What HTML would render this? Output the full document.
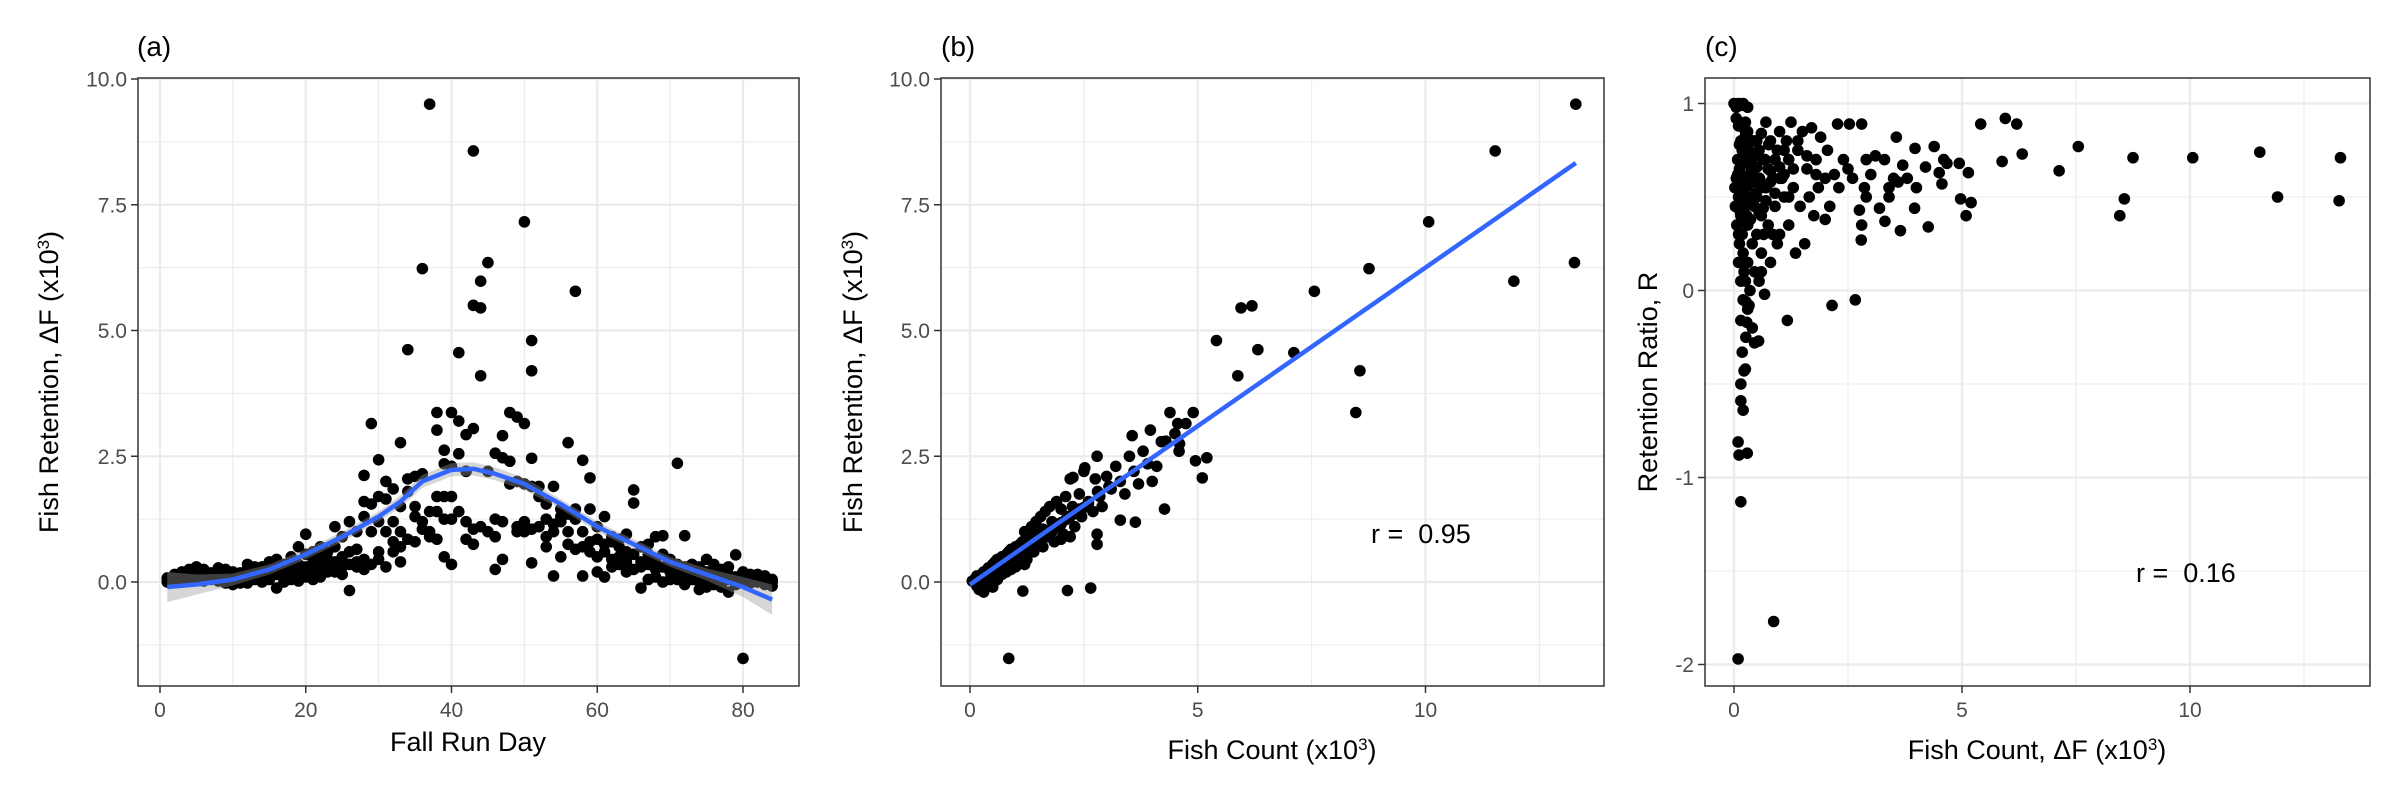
<!DOCTYPE html>
<html><head><meta charset="utf-8"><style>
html,body{margin:0;padding:0;background:#fff}
svg{display:block}
text{font-family:"Liberation Sans",Arial,sans-serif}
</style></head><body>
<svg id="fig" width="2400" height="800" viewBox="0 0 2400 800" xmlns="http://www.w3.org/2000/svg">
<rect width="2400" height="800" fill="#fff"/>
</svg>
<script>
// ---------- DATA ----------
// Panel (a): values per fall run day (index 0 = day 1)
const dayValues = [
[.02,.05,.08,0],[.1,.05,.15,0],[.12,.2,.05,.15],[.2,.1,.25,.05],[.3,.15,.05,.22],
[.25,.1,.2,.02],[.18,.05,.12],[.28,.1,.02,.2],[.15,.25,-.02,.08],[.05,.2,-.05,.12],
[.1,0,.18,-.02],[.35,.15,-.02,.25],[.2,.05,.3,.1],[.15,.3,0,.25],[.4,.1,.2,.05],
[.3,-.12,.15,.45],[.25,.1,.35,0],[.2,.5,.05,.3],[.15,.7,.35,.02],[.95,.3,.1,.55],
[.4,.2,.6,.05],[.7,.3,.1,.5],[.45,.6,.2,.25],[1.1,.2,.4,.7],[.9,.15,.5,.3],
[1.2,-.17,.6,.35],[.65,.3,1.0,.4],[2.12,1.6,.25,.45,1.3],[3.15,1.55,.35,1.0],[2.43,1.7,.6,.45,1.2],
[2.0,1.65,.3,1.0],[1.85,1.2,.8,.6],[2.77,1.5,1.0,.4,.7],[4.62,2.05,1.8,.85],[2.1,1.5,.8,1.3],
[6.23,2.15,1.2,1.05],[9.5,1.4,1.0,.9],[3.37,3.02,1.7,.85,1.4],[2.62,2.35,1.7,.5,1.25],[3.37,2.3,1.7,.35,1.25],
[4.56,3.2,2.55,1.4],[2.93,1.2,.85,2.2],[8.57,5.5,3.05,1.05,.75],[5.45,5.98,4.1,1.1],[6.35,2.2,1.0],
[2.56,1.25,.25,.9],[2.91,2.47,1.2,.45],[3.37,1.95,2.4],[3.28,1.0,1.1,2.0],[7.16,3.15,1.2,1.0,1.95],
[4.8,4.2,2.46,1.05,.38,1.9],[1.9,1.7,1.1],[1.55,1.25,.7,.9],[1.9,1.15,.12,1.0],[1.45,.5,1.2,1.3],
[2.77,.75,1.35,1.0],[5.78,1.45,.65,1.25],[2.42,.12,1.0,.7],[2.07,1.45,.6,.8],[.85,.5,.2,1.1],
[1.3,.75,.1,.6],[.8,.45,.9,.3],[.7,.5,.35,.85],[.95,.4,.6,.2],[1.83,1.57,.25,.55],
[.7,-.12,.4,.3],[.55,.05,.35,.75],[.9,.4,.1,.25],[.92,.3,0,.55],[.45,.2,.05,.3],
[2.36,.35,.15,.05],[.92,.3,.1,-.05],[.2,.05,.35,.15],[-.15,.3,.1,0],[.45,.2,-.1,.1],
[.35,.05,.15,-.05],[.25,-.1,.1,0],[.3,-.2,.05,.15],[.54,.1,-.05,0],[-1.52,.2,0,.1],
[.1,.15,-.02,.05],[.15,0,.1,.05],[.12,.02,.05,-.05],[0,.05,-.08,.02]
];
const loessDays = [1,5,10,15,20,25,30,33,36,40,43,46,50,55,60,65,70,75,80,84];
const loessFit  = [-.1,-.05,.05,.25,.55,.9,1.3,1.6,2.0,2.23,2.25,2.15,1.95,1.55,1.1,.75,.4,.15,-.1,-.35];
const loessSe   = [.3,.2,.12,.1,.1,.1,.1,.12,.13,.13,.13,.13,.12,.1,.1,.1,.1,.12,.2,.3];

// Panel (b): fish count vs retention
const countB = [13.3,11.53,10.07,8.76,13.27,11.94,7.56,5.95,6.19,5.41,6.32,7.11,5.88,8.56,8.47,.85,1.16,2.14,2.65,4.39,4.9,3.56,3.96,4.2,4.59,4.95,5.2,5.1,4.27,3.63,3.3,2.79,2.79,2.79,2.52,2.26,4.56,4.74,
.05,.1,.15,.2,.25,.3,.3,.35,.4,.4,.45,.5,.5,.55,.6,.6,.65,.7,.7,.75,.8,.8,.85,.9,.9,.95,1.0,1.0,1.05,1.1,1.1,1.15,1.2,1.2,1.25,1.3,1.3,1.35,1.4,1.45,1.5,1.5,1.55,1.6,1.65,1.7,1.75,1.8,1.85,1.9,1.95,2.0,2.05,2.1,2.15,2.2,2.25,2.3,2.4,2.45,2.5,2.6,2.7,2.75,2.8,2.9,3.0,3.1,3.2,3.3,3.4,3.5,3.6,3.7,3.8,3.9,4.0,4.1,4.3,4.5,4.6,
.2,.35,.5,.6,.15,.25,.45,.55,.7,.8,.9,1.0,1.1,1.2,1.4,1.6,1.8,2.0,2.2,
.1,.2,.3,.4,.5,.6,.7,.8,.9,1.0,1.1,1.2,1.3,1.4,1.5,1.6,1.7,1.8,1.9,2.0,2.1,2.3,2.5,
.15,.25,.35,.45,.55,.65,.75,.85,.95,1.05,1.15,1.25,1.35,1.45,1.55,1.65,1.75,1.85,2.0,2.2,2.4,2.6,2.85,3.05];
const retentionB = [9.5,8.57,7.16,6.23,6.35,5.98,5.78,5.45,5.49,4.8,4.62,4.56,4.1,4.2,3.37,-1.52,-.18,-.17,-.12,3.37,3.37,2.91,3.02,2.79,2.6,2.41,2.47,2.07,1.45,1.19,1.23,.75,.95,2.5,2.27,2.08,3.15,3.15,
.02,.05,-.08,.1,.15,-.2,.2,.22,.1,.28,.3,.2,.35,.4,.25,.45,.3,.5,.15,.45,.55,.35,.6,.4,.65,.5,.7,.45,.35,.75,.55,.8,.6,1.0,.45,.9,.7,1.1,.85,1.2,.95,.75,1.3,1.05,1.4,.9,1.5,1.2,.8,1.6,1.1,1.45,.95,1.7,1.3,2.05,1.5,1.1,1.75,1.3,2.2,1.6,1.4,2.05,1.8,1.5,2.1,1.85,2.3,2.0,1.75,2.5,2.2,1.95,2.6,2.35,2.0,2.3,2.8,2.95,2.75,
-.15,-.05,-.1,.05,.12,0,.05,.15,.3,.2,.25,.3,.4,.35,.6,.7,1.0,.85,.9,
.04,.1,.16,.22,.28,.34,.4,.46,.52,.58,.64,.7,.76,.82,.88,.94,1.0,1.06,1.12,1.18,1.24,1.36,1.48,
.05,.12,.18,.25,.3,.36,.42,.48,.55,.6,.66,.72,.78,.84,.9,.96,1.02,1.08,1.15,1.3,1.45,1.55,1.7,1.9];
const fitB = {x:[0,13.3], y:[-.05,8.33]};

// Panel (c): fish count vs retention ratio
const countC = [.09,.87,.15,.09,.11,.29,.2,.15,.15,.22,.25,.18,.54,.26,.15,.28,1.17,.67,2.15,2.66,.26,.33,
5.41,5.95,6.2,6.32,5.88,7.13,7.55,8.75,8.56,8.46,10.06,11.53,11.92,13.3,13.27,
4.94,5.14,4.97,5.2,5.09,4.39,3.97,3.56,4.26,3.65,3.31,3.19,4.56,4.67,3.96,2.27,2.53,2.8,2.79,2.8,2.75,2.86,2.9,
0,.05,.1,.15,.2,.3,.05,.1,.02,.03,.05,.06,.08,.1,.12,.12,.15,.15,.18,.18,.2,.2,.22,.22,.25,.25,.25,.28,.3,.3,.32,.35,.35,.38,.4,.4,.45,.45,.5,.5,.55,.55,.6,.6,.65,.7,.7,.75,.8,.8,.85,.9,.95,1.0,1.0,1.05,1.1,1.15,1.2,1.2,1.25,1.3,1.35,1.4,1.45,1.5,1.55,1.6,1.65,1.7,1.75,1.8,1.85,1.9,2.0,2.0,2.05,2.1,2.2,2.3,2.4,2.5,2.6,2.9,3.0,3.1,3.3,3.4,3.5,3.7,3.8,4.0,4.2,4.5,4.6,3.4,3.6,
.1,.15,.2,.3,.4,.45,.6,.5,.35,.28,.18,.5,.65,.75,.9,1.0,1.1,1.3,.85,.95,
.08,.12,.16,.2,.24,.28,.32,.36,.4,.44,.48,.52,.56,.6,.64,.68,.72,.76,.8,.1,.14,.18,.22,.26,.3,.34,.38,.42,.46,.5,.55,.6,.7,.8,.9,1.0,1.1,1.2,1.4,1.6,1.8,0.3,0.2,0.25];
const ratioC = [-1.97,-1.77,-1.13,-.81,-.88,-.87,-.64,-.59,-.5,-.43,-.42,-.33,-.27,-.25,-.16,-.17,-.16,-.02,-.08,-.05,-.06,-.08,
.89,.92,.89,.73,.69,.64,.77,.71,.49,.4,.71,.74,.5,.71,.48,
.68,.63,.49,.47,.4,.77,.76,.82,.34,.32,.37,.44,.57,.68,.44,.89,.89,.89,.27,.35,.43,.55,.5,
1.0,.98,1.0,.99,1.0,.98,.92,.88,.55,.45,.6,.35,.7,.5,.25,.65,.8,.4,.3,.75,.2,.55,.1,.7,.05,.45,.85,.6,.15,.35,.75,.5,0,.65,.25,.8,.45,.1,.6,.3,.75,.05,.4,.2,.7,.55,.9,.35,.8,.15,.6,.45,.75,.3,.85,.6,.5,.8,.35,.7,.9,.55,.2,.75,.45,.85,.25,.65,.5,.87,.4,.7,.55,.82,.6,.38,.75,.45,.62,.55,.7,.65,.6,.7,.62,.72,.7,.55,.6,.67,.6,.55,.66,.63,.7,.5,.58,
.15,.05,-.05,-.1,-.2,-.28,.1,.5,.7,.4,.5,.8,.3,.65,.7,.6,.75,.65,.3,.25,
.62,.78,.48,.68,.82,.58,.72,.38,.66,.8,.52,.74,.6,.84,.44,.7,.56,.78,.64,.3,.42,.6,.36,.5,.56,.62,.46,.58,.72,.66,.42,.55,.48,.58,.52,.66,.62,.5,.8,.72,.62,.85,.78,.9];

const ticksA_x = [0,20,40,60,80];
const ticksA_y = [0,2.5,5,7.5,10];
const labelsA_y = ["0.0","2.5","5.0","7.5","10.0"];
const ticksB_x = [0,5,10];
const ticksC_y = [-2,-1,0,1];

// ---------- DRAWING ----------
const svg = document.getElementById('fig');
const NS = 'http://www.w3.org/2000/svg';
function mk(tag, attrs, parent){
  const e = document.createElementNS(NS, tag);
  for (const k in attrs) e.setAttribute(k, attrs[k]);
  (parent||svg).appendChild(e);
  return e;
}
function linear(d0,d1,r0,r1){ return v => r0 + (v-d0)*(r1-r0)/(d1-d0); }

const axA = {L:138,R:799,T:78,B:686, x:linear(0,80,160,743), y:linear(0,10,582,79)};
const axB = {L:941,R:1604,T:78,B:686, x:linear(0,10,970,1425.5), y:linear(0,10,582,79)};
const axC = {L:1705,R:2370,T:78,B:686, x:linear(0,10,1734,2190), y:linear(0,1,290.5,103.5)};

function panel(ax, name, xMajor, xMinor, yMajor, yMinor, xLabels, yLabels){
  const g = mk('g', {});
  
  
  const grid = mk('g', {}, g);
  
  
  xMinor.forEach(v => { const x = ax.x(v); mk('line',{x1:x,x2:x,y1:ax.T,y2:ax.B,stroke:'#ebebeb','stroke-width':1.1},grid); });
  yMinor.forEach(v => { const y = ax.y(v); mk('line',{x1:ax.L,x2:ax.R,y1:y,y2:y,stroke:'#ebebeb','stroke-width':1.1},grid); });
  xMajor.forEach(v => { const x = ax.x(v); mk('line',{x1:x,x2:x,y1:ax.T,y2:ax.B,stroke:'#ebebeb','stroke-width':2.2},grid); });
  yMajor.forEach(v => { const y = ax.y(v); mk('line',{x1:ax.L,x2:ax.R,y1:y,y2:y,stroke:'#ebebeb','stroke-width':2.2},grid); });
  const xt = mk('g', {}, g);
  
  
  xMajor.forEach((v,i) => {
    const x = ax.x(v);
    mk('line',{x1:x,x2:x,y1:ax.B,y2:ax.B+7,stroke:'#333','stroke-width':1.5},xt);
    const t = mk('text',{x:x,y:ax.B+31,'text-anchor':'middle','font-size':21,fill:'#4d4d4d'},xt);
    t.textContent = xLabels[i];
  });
  const yt = mk('g', {}, g);
  
  
  yMajor.forEach((v,i) => {
    const y = ax.y(v);
    mk('line',{x1:ax.L-7,x2:ax.L,y1:y,y2:y,stroke:'#333','stroke-width':1.5},yt);
    const t = mk('text',{x:ax.L-11,y:y+7.5,'text-anchor':'end','font-size':21,fill:'#4d4d4d'},yt);
    t.textContent = yLabels[i];
  });
  return g;
}
function border(ax, name){
  const r = mk('rect',{x:ax.L,y:ax.T,width:ax.R-ax.L,height:ax.B-ax.T,fill:'none',stroke:'#333','stroke-width':1.5});
  
  
}
function points(ax, xs, ys, name){
  const g = mk('g', {});
  
  
  for (let i=0;i<xs.length;i++){
    const c = mk('circle',{cx:ax.x(xs[i]),cy:ax.y(ys[i]),r:5.8,fill:'#000'},g);
    
    
  }
  return g;
}
function text(x,y,str,size,name,anchor,rot){
  const t = mk('text',{x:x,y:y,'font-size':size,fill:'#000','text-anchor':anchor||'start'});
  if (rot) t.setAttribute('transform','rotate(-90 '+x+' '+y+')');
  
  
  t.textContent = str;
  return t;
}
function titleWithSup(x,y,pre,post,name,rot){
  const t = mk('text',{x:x,y:y,'font-size':27,fill:'#000','text-anchor':'middle'});
  if (rot) t.setAttribute('transform','rotate(-90 '+x+' '+y+')');
  
  
  const a = mk('tspan',{},t); a.textContent = pre;
  const s = mk('tspan',{'baseline-shift':'super','font-size':17},t); s.textContent = '3';
  const b = mk('tspan',{},t); b.textContent = post;
  return t;
}

// Panel A
panel(axA,'panel-a',ticksA_x,[10,30,50,70],ticksA_y,[-1.25,1.25,3.75,6.25,8.75],ticksA_x.map(String),labelsA_y);
const ax=[],ay=[];
dayValues.forEach((vals,i)=>vals.forEach(v=>{ax.push(i+1);ay.push(v);}));
points(axA,ax,ay,'panel-a-points');
let band = '';
loessDays.forEach((d,i)=>{ band += (i?'L':'M')+axA.x(d)+','+axA.y(loessFit[i]+loessSe[i]); });
for (let i=loessDays.length-1;i>=0;i--) band += 'L'+axA.x(loessDays[i])+','+axA.y(loessFit[i]-loessSe[i]);
const bandEl = mk('path',{d:band+'Z',fill:'#999','fill-opacity':0.4,stroke:'none'});


const lp = loessDays.map((d,i)=>axA.x(d)+','+axA.y(loessFit[i])).join(' ');
const lo = mk('polyline',{points:lp,fill:'none',stroke:'#3366FF','stroke-width':4.5,'stroke-linejoin':'round'});


border(axA,'panel-a');
text(137,56,'(a)',28,'panel-a-label');
text(468,751,'Fall Run Day',27,'panel-a-x-title','middle');
titleWithSup(58,382,'Fish Retention, ΔF (x10',')','panel-a-y-title',true);

// Panel B
panel(axB,'panel-b',ticksB_x,[2.5,7.5,12.5],ticksA_y,[-1.25,1.25,3.75,6.25,8.75],ticksB_x.map(String),labelsA_y);
points(axB,countB,retentionB,'panel-b-points');
const fl = mk('line',{x1:axB.x(fitB.x[0]),y1:axB.y(fitB.y[0]),x2:axB.x(fitB.x[1]),y2:axB.y(fitB.y[1]),stroke:'#3366FF','stroke-width':4.5});


border(axB,'panel-b');
text(941,56,'(b)',28,'panel-b-label');
text(1371,543,'r =\u00a0 0.95',27,'panel-b-correlation');
titleWithSup(1272,759,'Fish Count (x10',')','panel-b-x-title');
titleWithSup(862,382,'Fish Retention, ΔF (x10',')','panel-b-y-title',true);

// Panel C
panel(axC,'panel-c',ticksB_x,[2.5,7.5,12.5],ticksC_y,[-1.5,-0.5,0.5],ticksB_x.map(String),ticksC_y.map(String));
points(axC,countC,ratioC,'panel-c-points');
border(axC,'panel-c');
text(1705,56,'(c)',28,'panel-c-label');
text(2136,582,'r =\u00a0 0.16',27,'panel-c-correlation');
titleWithSup(2037,759,'Fish Count, ΔF (x10',')','panel-c-x-title');
text(1657,382,'Retention Ratio, R',27,'panel-c-y-title','middle',true);
</script>
</body></html>
